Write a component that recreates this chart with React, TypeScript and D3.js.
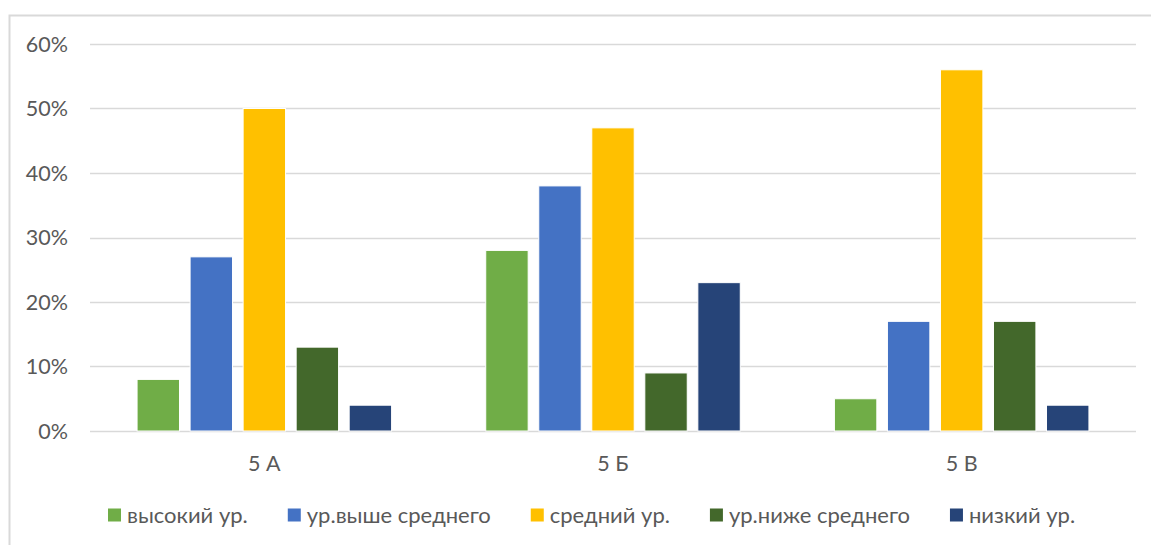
import React, { useEffect, useRef } from "react";
import * as d3 from "d3";

const categories = ["5 А", "5 Б", "5 В"];
const seriesNames = ["высокий ур.", "ур.выше среднего", "средний ур.", "ур.ниже среднего", "низкий ур."];
const seriesColors = ["#70AD47", "#4472C4", "#FFC000", "#43682B", "#264478"];
const values: number[][] = [
  [0.08, 0.27, 0.50, 0.13, 0.04],
  [0.28, 0.38, 0.47, 0.09, 0.23],
  [0.05, 0.17, 0.56, 0.17, 0.04],
];
const yTicks = [0, 0.1, 0.2, 0.3, 0.4, 0.5, 0.6];

const W = 1151;
const H = 545;
const FONT = "Lato, Carlito, Calibri, 'Open Sans', sans-serif";
const TEXT = "#595959";

export default function App() {
  const ref = useRef<SVGSVGElement>(null);

  useEffect(() => {
    const svg = d3.select(ref.current);
    svg.selectAll("*").remove();

    const left = 90, right = 1136, top = 44, bottom = 431;

    // frame
    svg.append("rect")
      .attr("x", 9.5).attr("y", 15.5)
      .attr("width", W + 40).attr("height", H + 40)
      .attr("fill", "white")
      .attr("stroke", "#d9d9d9").attr("stroke-width", 2);

    const y = d3.scaleLinear().domain([0, 0.6]).range([bottom, top]);
    const x0 = d3.scaleBand<string>().domain(categories).range([left, right]).padding(0);
    const outer = x0.bandwidth() * 0.135;
    const x1 = d3.scaleBand<string>().domain(seriesNames)
      .range([outer, x0.bandwidth() - outer]).paddingInner(0.2).paddingOuter(0);

    // gridlines
    svg.append("g").selectAll("line").data(yTicks).join("line")
      .attr("x1", left).attr("x2", right)
      .attr("y1", (d) => Math.round(y(d)) + 0.5).attr("y2", (d) => Math.round(y(d)) + 0.5)
      .attr("stroke", "#d9d9d9").attr("stroke-width", 1.3);

    // y labels
    svg.append("g").selectAll("text").data(yTicks).join("text")
      .attr("x", 68).attr("y", (d) => y(d))
      .attr("dy", "0.35em")
      .attr("text-anchor", "end")
      .attr("font-family", FONT).attr("font-size", 21.5).attr("fill", TEXT)
      .text((d) => d3.format(".0%")(d));

    // bars
    const groups = svg.append("g").selectAll("g").data(categories).join("g")
      .attr("transform", (c) => `translate(${x0(c)},0)`);
    groups.selectAll("rect")
      .data((c, i) => seriesNames.map((s, j) => ({ s, v: values[i][j], color: seriesColors[j] })))
      .join("rect")
      .attr("x", (d) => x1(d.s)!)
      .attr("width", x1.bandwidth())
      .attr("y", (d) => y(d.v))
      .attr("height", (d) => y(0) - y(d.v))
      .attr("fill", (d) => d.color)
      .attr("stroke", "white").attr("stroke-width", 1);

    // x labels
    svg.append("g").selectAll("text").data(categories).join("text")
      .attr("x", (c) => x0(c)! + x0.bandwidth() / 2)
      .attr("y", 463).attr("dy", "0.35em")
      .attr("text-anchor", "middle")
      .attr("font-family", FONT).attr("font-size", 21.5).attr("fill", TEXT)
      .text((c) => c);

    // legend
    const legend = svg.append("g");
    let cx = 108;
    const ly = 515;
    const sq = 13;
    seriesNames.forEach((name, j) => {
      legend.append("rect")
        .attr("x", cx).attr("y", ly - sq / 2)
        .attr("width", sq).attr("height", sq)
        .attr("fill", seriesColors[j]);
      const t = legend.append("text")
        .attr("x", cx + sq + 6).attr("y", ly).attr("dy", "0.35em")
        .attr("font-family", FONT).attr("font-size", 22).attr("fill", TEXT)
        .text(name);
      const w = (t.node() as SVGTextElement).getComputedTextLength();
      cx = cx + sq + 6 + w + 40;
    });
  }, []);

  return (
    <svg
      ref={ref}
      width={W}
      height={H}
      style={{ position: "absolute", left: 0, top: 0, background: "white" }}
    />
  );
}
